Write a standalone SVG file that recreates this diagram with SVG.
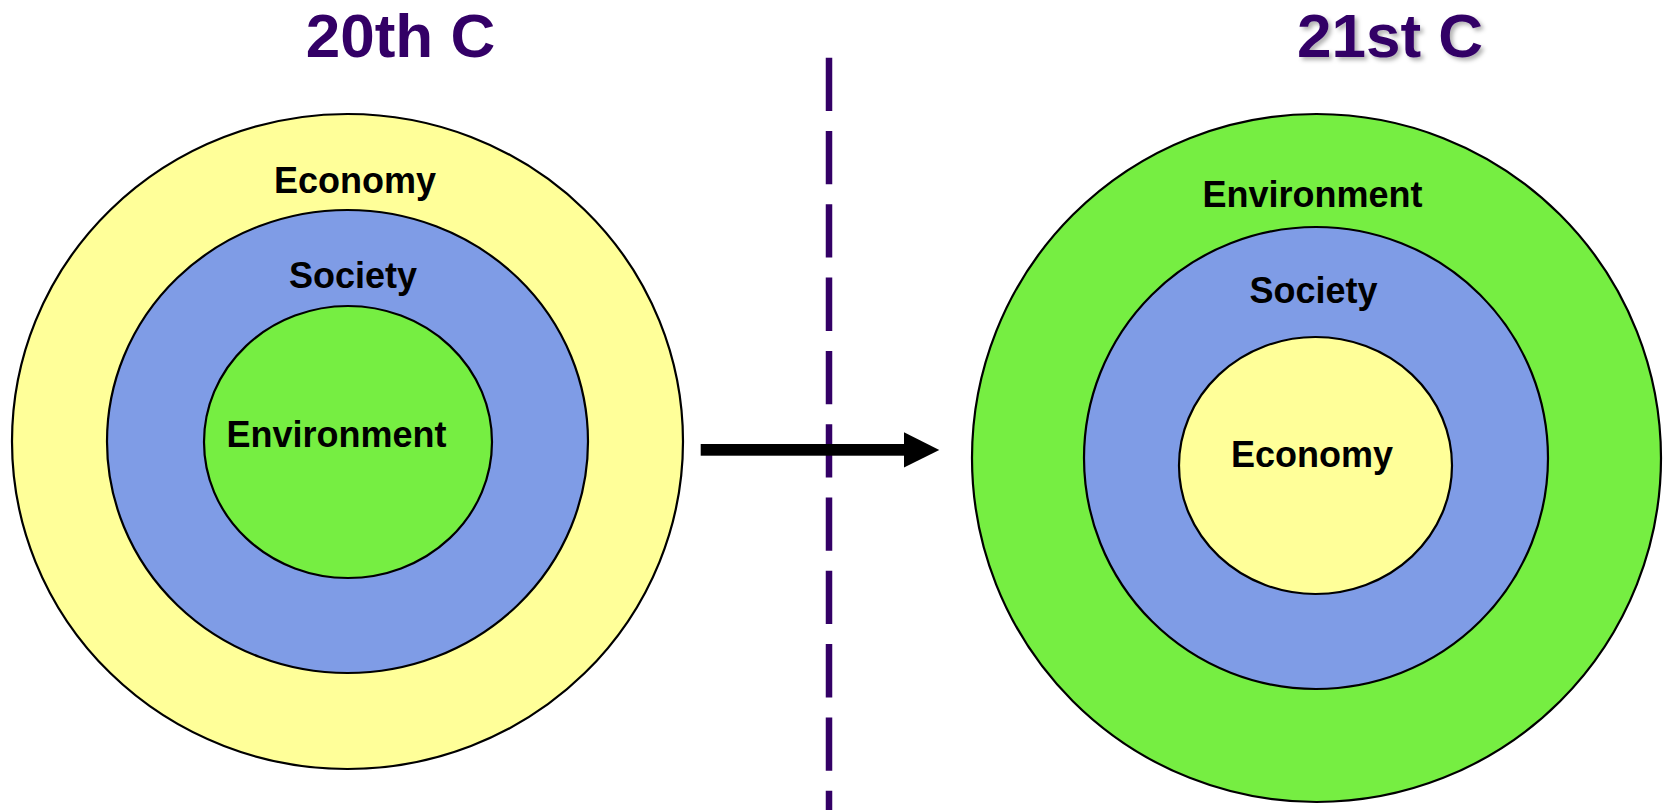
<svg xmlns="http://www.w3.org/2000/svg" width="1665" height="810" viewBox="0 0 1665 810">
  <defs>
    <style>
      .ring { stroke: #000; stroke-width: 2.2; }
      .econ { fill: #FFFF99; }
      .soc { fill: #7F9CE6; }
      .env { fill: #76EE42; }
      .label { font-family: "Liberation Sans", Arial, sans-serif; font-weight: bold; font-size: 36px; fill: #000; text-anchor: middle; }
      .title { font-family: "Liberation Sans", Arial, sans-serif; font-weight: bold; font-size: 62px; fill: #330066; text-anchor: middle; }
    </style>
    <filter id="softShadow" x="-10%" y="-20%" width="130%" height="150%">
      <feDropShadow dx="3" dy="3" stdDeviation="2" flood-color="#000" flood-opacity="0.3"/>
    </filter>
  </defs>

  <rect width="1665" height="810" fill="#fff"/>

  <!-- headings -->
  <text id="title-20th" class="title" x="400.5" y="57">20th C</text>
  <text id="title-21st" class="title" x="1390" y="57" filter="url(#softShadow)">21st C</text>

  <!-- divider -->
  <line id="divider" x1="829" y1="57.7" x2="829" y2="812" stroke="#330066" stroke-width="6.5" stroke-dasharray="53.3 20"/>

  <!-- 20th century model: environment inside society inside economy -->
  <g id="left-economy">
    <ellipse class="ring econ" cx="347.5" cy="441.5" rx="335.5" ry="327.5"/>
    <text class="label" x="355" y="193">Economy</text>
  </g>
  <g id="left-society">
    <ellipse class="ring soc" cx="347.5" cy="441.5" rx="240.5" ry="231.5"/>
    <text class="label" x="353" y="288">Society</text>
  </g>
  <g id="left-environment">
    <ellipse class="ring env" cx="348" cy="442" rx="144" ry="136"/>
    <text class="label" x="336.5" y="447">Environment</text>
  </g>

  <!-- 21st century model: economy inside society inside environment -->
  <g id="right-environment">
    <ellipse class="ring env" cx="1316.5" cy="458" rx="344.5" ry="344"/>
    <text class="label" x="1312.5" y="207">Environment</text>
  </g>
  <g id="right-society">
    <ellipse class="ring soc" cx="1316" cy="458" rx="232" ry="231"/>
    <text class="label" x="1313.5" y="303">Society</text>
  </g>
  <g id="right-economy">
    <ellipse class="ring econ" cx="1315.5" cy="465.5" rx="136.5" ry="128.5"/>
    <text class="label" x="1312" y="467">Economy</text>
  </g>

  <!-- transition arrow -->
  <g id="connectors">
    <rect x="700.7" y="444" width="204" height="11.7" fill="#000"/>
    <polygon points="904,432.3 939.3,450 904,467.5" fill="#000"/>
  </g>
</svg>
